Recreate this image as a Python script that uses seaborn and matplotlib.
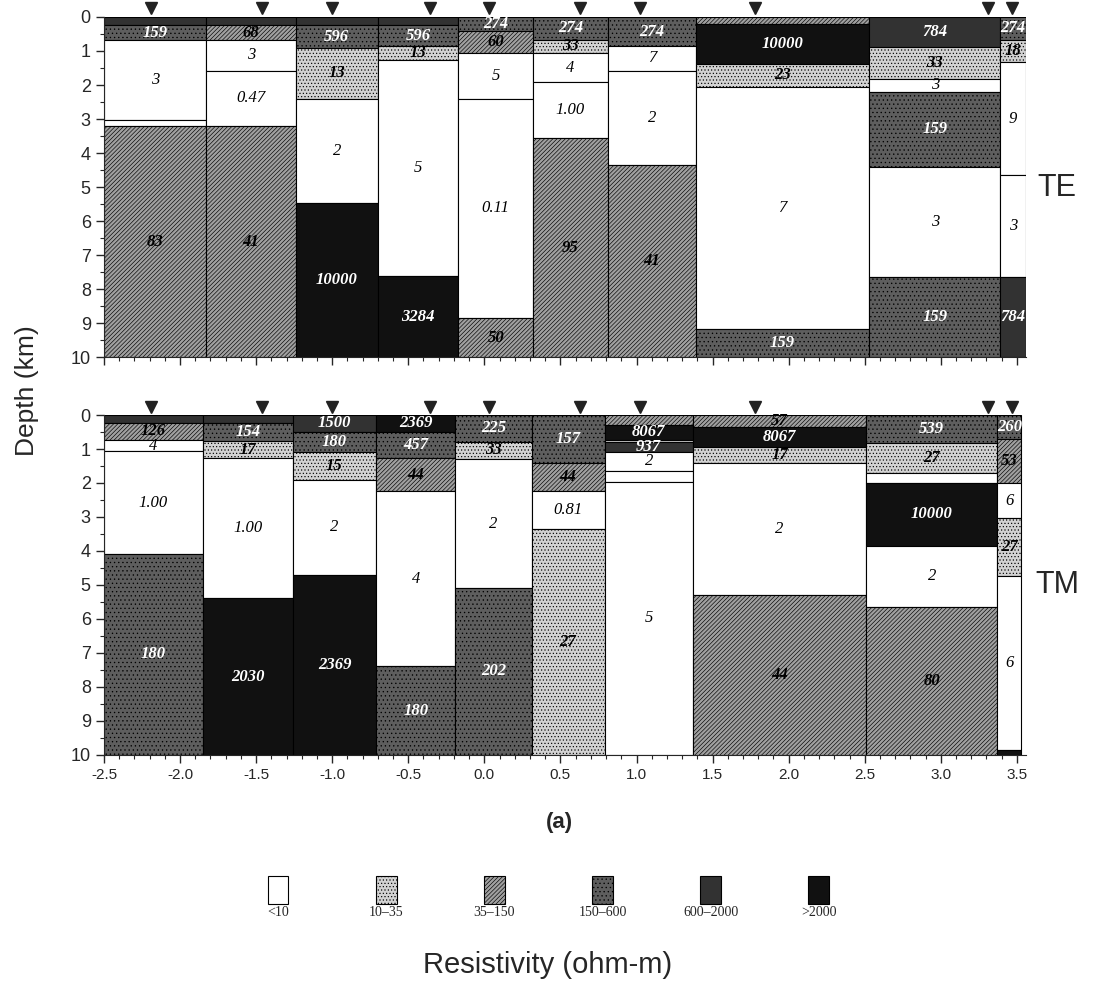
import numpy as np
import matplotlib.pyplot as plt
import matplotlib.ticker as mtick
import seaborn as sns

sns.set_style('ticks')
plt.rcParams['font.family'] = ['Liberation Sans', 'DejaVu Sans']
plt.rcParams['axes.unicode_minus'] = False
plt.rcParams['hatch.linewidth'] = 0.45
plt.rcParams['hatch.color'] = 'black'

# =============================================================================
# Resistivity classes (ohm-m)
# =============================================================================

class_bounds = [10, 35, 150, 600, 2000]
class_names = ['<10', '10\u201335', '35\u2013150', '150\u2013600',
               '600\u20132000', '>2000']
class_colors = ['#ffffff', '#d2d2d2', '#a0a0a0', '#5e5e5e', '#323232',
                '#111111']
class_hatch = [None, '.....', '////////', '....', None, None]

stations = [-2.19, -1.46, -1.0, -0.36, 0.03, 0.63, 1.02, 1.78, 3.31, 3.47]

# =============================================================================
# TE model: column edges, layer boundaries (km), resistivity, labels
# =============================================================================

te_edges = [-2.5, -1.83, -1.24, -0.70, -0.17, 0.32, 0.81, 1.39, 2.53, 3.39,
            3.56]
te_depths = [[0, 0.25, 0.67, 3.04, 3.2, 10],
             [0, 0.25, 0.67, 1.58, 3.2, 10],
             [0, 0.25, 0.91, 2.4, 5.45, 10],
             [0, 0.25, 0.86, 1.28, 7.6, 10],
             [0, 0.42, 1.06, 2.4, 8.85, 10],
             [0, 0.67, 1.06, 1.92, 3.55, 10],
             [0, 0.86, 1.58, 4.35, 10],
             [0, 0.22, 1.37, 2.06, 9.15, 10],
             [0, 0.88, 1.82, 2.2, 4.41, 7.63, 10],
             [0, 0.67, 1.32, 4.65, 7.63, 10]]
te_rho = [[1000, 159, 3, 5, 83],
          [1000, 68, 3, 0.47, 41],
          [1000, 596, 13, 2, 10000],
          [1000, 596, 13, 5, 3284],
          [274, 60, 5, 0.11, 50],
          [274, 33, 4, 1.00, 95],
          [274, 7, 2, 41],
          [100, 10000, 23, 7, 159],
          [784, 33, 3, 159, 3, 159],
          [274, 18, 9, 3, 784]]
te_labels = [['', '159', '3', '', '83'],
             ['', '68', '3', '0.47', '41'],
             ['', '596', '13', '2', '10000'],
             ['', '596', '13', '5', '3284'],
             ['274', '60', '5', '0.11', '50'],
             ['274', '33', '4', '1.00', '95'],
             ['274', '7', '2', '41'],
             ['', '10000', '23', '7', '159'],
             ['784', '33', '3', '159', '3', '159'],
             ['274', '18', '9', '3', '784']]

# =============================================================================
# TM model
# =============================================================================

tm_edges = [-2.5, -1.85, -1.26, -0.71, -0.19, 0.31, 0.79, 1.37, 2.51, 3.37,
            3.53]
tm_depths = [[0, 0.22, 0.74, 1.06, 4.1, 10],
             [0, 0.22, 0.76, 1.27, 5.4, 10],
             [0, 0.49, 1.08, 1.91, 4.7, 10],
             [0, 0.49, 1.27, 2.23, 7.4, 10],
             [0, 0.78, 1.3, 5.1, 10],
             [0, 1.42, 2.25, 3.35, 10],
             [0, 0.3, 0.72, 0.78, 1.08, 1.64, 1.96, 10],
             [0, 0.34, 0.93, 1.42, 5.3, 10],
             [0, 0.83, 1.7, 1.99, 3.85, 5.65, 10],
             [0, 0.69, 2.0, 3.04, 4.75, 9.85, 10]]
tm_rho = [[1000, 126, 4, 1.00, 180],
          [1000, 154, 17, 1.00, 2030],
          [1500, 180, 15, 2, 2369],
          [2369, 457, 44, 4, 180],
          [225, 33, 2, 202],
          [157, 44, 0.81, 27],
          [100, 8067, 20, 937, 2, 3, 5],
          [57, 8067, 17, 2, 44],
          [539, 27, 3, 10000, 2, 80],
          [260, 53, 6, 27, 6, 3000]]
tm_labels = [['', '126', '4', '1.00', '180'],
             ['', '154', '17', '1.00', '2030'],
             ['1500', '180', '15', '2', '2369'],
             ['2369', '457', '44', '4', '180'],
             ['225', '33', '2', '202'],
             ['157', '44', '0.81', '27'],
             ['', '8067', '', '937', '2', '', '5'],
             ['57', '8067', '17', '2', '44'],
             ['539', '27', '', '10000', '2', '80'],
             ['260', '53', '6', '27', '6', '']]


def rho_class(r):
    return int(np.searchsorted(class_bounds, r, side='right'))


def draw_model(ax, edges, depths, rhos, labels):
    for i in range(len(depths)):
        left, right = edges[i], edges[i + 1]
        d = np.array(depths[i])
        cls = [rho_class(r) for r in rhos[i]]
        bars = ax.bar(left, np.diff(d), bottom=d[:-1], width=right - left,
                      align='edge', color=[class_colors[c] for c in cls],
                      edgecolor='black', linewidth=0.8)
        for b, c in zip(bars, cls):
            if class_hatch[c]:
                b.set_hatch(class_hatch[c])
        for j, lab in enumerate(labels[i]):
            if lab == '':
                continue
            ax.text((left + right) / 2, (d[j] + d[j + 1]) / 2, lab,
                    ha='center', va='center', fontsize=12,
                    family='Liberation Serif', style='italic',
                    weight='bold' if cls[j] > 0 else 'normal',
                    color='white' if cls[j] >= 3 else 'black')
    ax.plot(stations, [-0.25] * len(stations), 'v', color='#222222',
            markersize=9, clip_on=False)
    ax.set_xlim(-2.5, 3.56)
    ax.set_ylim(10, 0)
    ax.set_yticks(range(0, 11))
    ax.yaxis.set_minor_locator(mtick.MultipleLocator(0.5))
    ax.xaxis.set_major_locator(mtick.MultipleLocator(0.5))
    ax.xaxis.set_minor_locator(mtick.MultipleLocator(0.1))
    ax.xaxis.set_major_formatter(mtick.StrMethodFormatter('{x:.1f}'))
    ax.tick_params(which='major', length=6, width=1, labelsize=13)
    ax.tick_params(which='minor', length=3, width=0.8)
    ax.tick_params(axis='x', labelsize=11)
    for s in ['top', 'right']:
        ax.spines[s].set_visible(False)


fig = plt.figure(figsize=(10.99, 9.93), dpi=100)
ax_te = fig.add_axes([0.0946, 0.640, 0.839, 0.343])
ax_tm = fig.add_axes([0.0946, 0.240, 0.839, 0.342])

draw_model(ax_te, te_edges, te_depths, te_rho, te_labels)
draw_model(ax_tm, tm_edges, tm_depths, tm_rho, tm_labels)
ax_te.tick_params(axis='x', labelbottom=False)

fig.text(0.962, 0.811, 'TE', fontsize=22, ha='center', va='center')
fig.text(0.962, 0.411, 'TM', fontsize=22, ha='center', va='center')
fig.text(0.025, 0.607, 'Depth (km)', fontsize=19, rotation=90,
         ha='center', va='center')
fig.text(0.509, 0.172, '(a)', fontsize=16, weight='bold', ha='center',
         va='center')
fig.text(0.498, 0.028, 'Resistivity (ohm-m)', fontsize=21, ha='center',
         va='center')

# =============================================================================
# Legend boxes
# =============================================================================

ax_leg = fig.add_axes([0.2, 0.07, 0.6, 0.06])
leg_x = np.arange(len(class_names))
boxes = ax_leg.bar(leg_x, [0.8] * len(leg_x), width=0.19, bottom=0.55,
                   color=class_colors, edgecolor='black', linewidth=0.8)
for b, h in zip(boxes, class_hatch):
    if h:
        b.set_hatch(h)
for x, name in zip(leg_x, class_names):
    ax_leg.text(x, 0.3, name, ha='center', va='center', fontsize=10,
                family='Liberation Serif')
ax_leg.set_xlim(-0.54, 5.56)
ax_leg.set_ylim(0, 1.7)
ax_leg.axis('off')

plt.savefig('out.png', dpi=100)
